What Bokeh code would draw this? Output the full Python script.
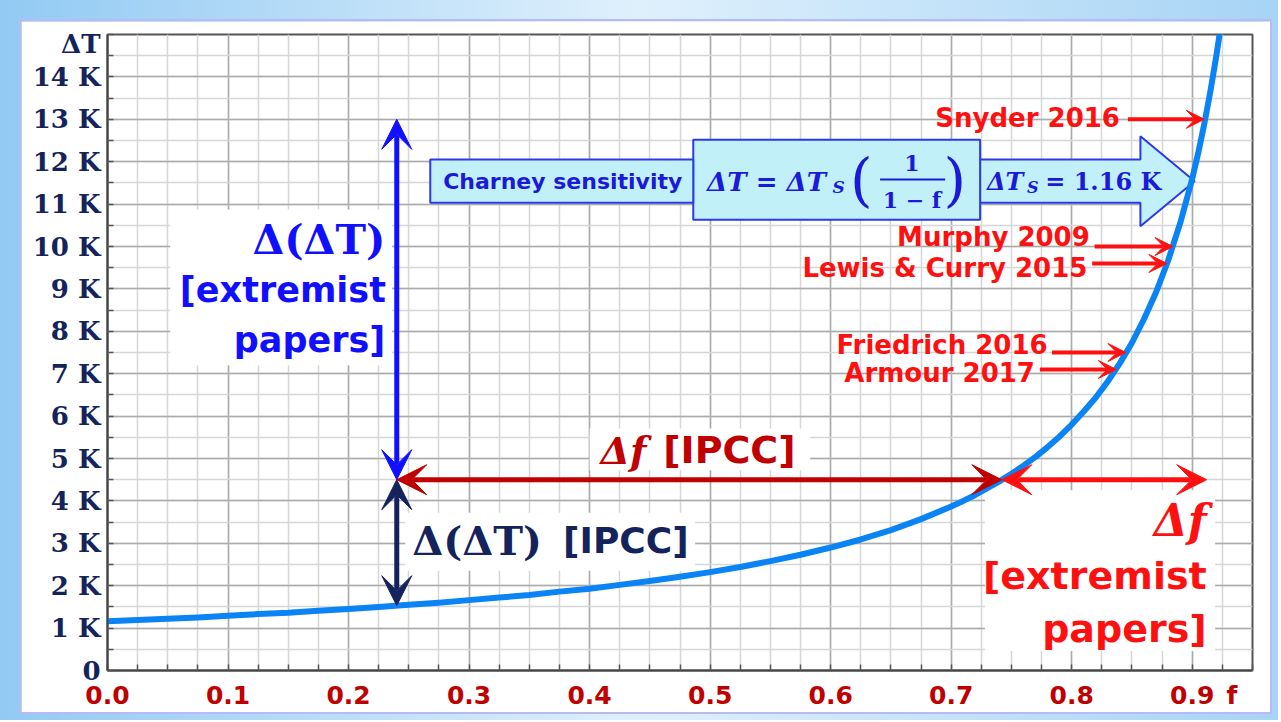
import numpy as np
from bokeh.plotting import figure
from bokeh.models import Range1d, FixedTicker, Label, Arrow, VeeHead
from bokeh.layouts import column
from bokeh.embed import file_html
from bokeh.resources import INLINE

# ---------------- data ----------------
f_ticks = [0.0, 0.1, 0.2, 0.3, 0.4, 0.5, 0.6, 0.7, 0.8, 0.9]
f_tick_labels = ["0.0", "0.1", "0.2", "0.3", "0.4", "0.5", "0.6", "0.7", "0.8", "0.9"]
dT_ticks = list(range(0, 15))
dT_tick_labels = ["0"] + [f"{k} K" for k in range(1, 15)]
x_name, y_name = "f", "ΔT"

# Charney curve, values
curve_f = [0.000, 0.025, 0.050, 0.075, 0.100, 0.125, 0.150, 0.175, 0.200, 0.225,
           0.250, 0.275, 0.300, 0.325, 0.350, 0.375, 0.400, 0.425, 0.450, 0.475,
           0.500, 0.525, 0.550, 0.575, 0.600, 0.625, 0.650, 0.675, 0.700, 0.710,
           0.720, 0.730, 0.740, 0.750, 0.760, 0.770, 0.780, 0.790, 0.800, 0.810,
           0.820, 0.830, 0.840, 0.850, 0.860, 0.870, 0.880, 0.890, 0.900, 0.905,
           0.910, 0.915, 0.920, 0.923]
curve_dT = [1.16, 1.19, 1.22, 1.25, 1.29, 1.33, 1.36, 1.41, 1.45, 1.50,
            1.55, 1.60, 1.66, 1.72, 1.78, 1.86, 1.93, 2.02, 2.11, 2.21,
            2.32, 2.44, 2.58, 2.73, 2.90, 3.09, 3.31, 3.57, 3.87, 4.00,
            4.14, 4.30, 4.46, 4.64, 4.83, 5.04, 5.27, 5.52, 5.80, 6.11,
            6.44, 6.82, 7.25, 7.73, 8.29, 8.92, 9.67, 10.55, 11.60, 12.21,
            12.89, 13.65, 14.50, 15.06]

# published estimates pointed at on the curve
ref_names = ["Snyder 2016", "Murphy 2009", "Lewis & Curry 2015", "Friedrich 2016", "Armour 2017"]
ref_dT = [13.0, 10.0, 9.6, 7.5, 7.1]
ref_f = [0.910, 0.884, 0.879, 0.845, 0.837]

# IPCC / extremist intervals
ipcc_f = [0.24, 0.742]
extreme_f = [0.742, 0.912]
ipcc_dT = [1.53, 4.5]
extreme_dT = [4.5, 13.0]

# ---------------- layout / style ----------------
NAVY = "#14235c"
DRED = "#c00000"
RED = "#ff1010"
BLUE = "#1010ff"
FBLUE = "#1a1ad8"
CURVE = "#0a84f5"
BOXFILL = "#c2f0f8"
BOXLINE = "#2a3ae8"
SANS = "DejaVu Sans"
SERIF = "DejaVu Serif"

p = figure(width=1249, height=691, x_range=Range1d(0, 0.95), y_range=Range1d(0, 15),
           output_backend="svg", toolbar_location=None,
           min_border_left=86, min_border_right=18, min_border_top=13, min_border_bottom=42)
p.margin = (21, 8, 8, 21)
p.styles = {"outline": "2px solid #b9b9f3"}
p.background_fill_color = "white"
p.border_fill_color = "white"
p.outline_line_color = "#555555"
p.outline_line_width = 2

minor_x = [round(v, 4) for v in np.arange(0, 0.951, 0.025)]
minor_y = [round(v, 2) for v in np.arange(0, 15.01, 0.5)]
# axis-name positions share the tick-label row/column
x_name_pos, y_name_pos = 0.933, 14.77
p.xaxis.ticker = FixedTicker(ticks=f_ticks + [x_name_pos], minor_ticks=minor_x)
p.yaxis.ticker = FixedTicker(ticks=dT_ticks + [y_name_pos], minor_ticks=minor_y)
p.xgrid.ticker = FixedTicker(ticks=f_ticks, minor_ticks=minor_x)
p.ygrid.ticker = FixedTicker(ticks=dT_ticks, minor_ticks=minor_y)
xo = {t: l for t, l in zip(f_ticks, f_tick_labels)}
xo[x_name_pos] = x_name
yo = {t: l for t, l in zip(dT_ticks, dT_tick_labels)}
yo[y_name_pos] = y_name
p.xaxis.major_label_overrides = xo
p.yaxis.major_label_overrides = yo

for ax in (p.xaxis, p.yaxis):
    ax.axis_line_color = "#444444"
    ax.axis_line_width = 2
    ax.major_tick_in = 0
    ax.major_tick_out = 0
    ax.minor_tick_in = 6
    ax.minor_tick_out = 0
    ax.minor_tick_line_color = "#555555"
    ax.minor_tick_line_width = 1.5

p.xaxis.major_label_text_font = SANS
p.xaxis.major_label_text_font_style = "bold"
p.xaxis.major_label_text_font_size = "25px"
p.xaxis.major_label_text_color = DRED
p.xaxis.major_label_standoff = 10

p.yaxis.major_label_text_font = SERIF
p.yaxis.major_label_text_font_style = "bold"
p.yaxis.major_label_text_font_size = "26px"
p.yaxis.major_label_text_color = NAVY
p.yaxis.major_label_standoff = 7

for g in (p.xgrid, p.ygrid):
    g.grid_line_color = "#ababab"
    g.grid_line_width = 1.5
    g.minor_grid_line_color = "#d6d6d6"
    g.minor_grid_line_width = 1.5

# white boxes behind text
p.quad(left=[0.052, 0.247, 0.400, 0.728], right=[0.236, 0.4876, 0.583, 0.919],
       bottom=[7.2, 2.35, 4.72, 0.46], top=[10.87, 3.72, 5.71, 4.25],
       fill_color="white", line_color=None)

# Charney arrow shape + boxes
p.patch([0.724, 0.857, 0.857, 0.902, 0.857, 0.857, 0.724],
        [11.03, 11.03, 10.48, 11.54, 12.60, 12.05, 12.05],
        fill_color=BOXFILL, line_color=BOXLINE, line_width=2)
p.quad(left=[0.486], right=[0.724], bottom=[10.63], top=[12.52],
       fill_color=BOXFILL, line_color=BOXLINE, line_width=2)
p.quad(left=[0.2678], right=[0.486], bottom=[11.03], top=[12.05],
       fill_color=BOXFILL, line_color=BOXLINE, line_width=2)

# curve
p.line(curve_f, curve_dT, line_color=CURVE, line_width=6, line_join="round")


def lab(x, y, text, size, color, font=SANS, style="bold", align="left", baseline="middle"):
    p.add_layout(Label(x=x, y=y, text=text, text_font_size=size, text_color=color,
                       text_font=font, text_font_style=style, text_align=align,
                       text_baseline=baseline))


def arrow(x0, y0, x1, y1, color, width, size, both=True):
    p.add_layout(Arrow(x_start=x0, y_start=y0, x_end=x1, y_end=y1,
                       line_color=color, line_width=width,
                       start=VeeHead(size=size, fill_color=color, line_color=color) if both else None,
                       end=VeeHead(size=size, fill_color=color, line_color=color)))


# interval arrows
arrow(ipcc_f[0], extreme_dT[0], ipcc_f[0], extreme_dT[1], BLUE, 5, 30)
arrow(ipcc_f[0], ipcc_dT[1], ipcc_f[0], ipcc_dT[0], NAVY, 5, 30)
arrow(ipcc_f[1], ipcc_dT[1], ipcc_f[0], ipcc_dT[1], DRED, 5, 30)
arrow(extreme_f[0], ipcc_dT[1], extreme_f[1], ipcc_dT[1], RED, 5, 30)

# study arrows and labels
text_right = [0.840, 0.815, 0.813, 0.780, 0.7695]
text_y = [13.04, 10.23, 9.50, 7.68, 7.01]
tail_x = [0.8466, 0.819, 0.817, 0.7836, 0.7736]
for name, dT, fx, tr, ty, tx in zip(ref_names, ref_dT, ref_f, text_right, text_y, tail_x):
    arrow(tx, dT, fx, dT, RED, 4, 18, both=False)
    lab(tr, ty, name, "26px", RED, align="right")

# blue label
lab(0.2305, 10.16, "Δ(ΔT)", "41px", BLUE, font=SERIF, align="right")
lab(0.2310, 8.98, "[extremist", "35px", BLUE, align="right")
lab(0.2305, 7.79, "papers]", "35px", BLUE, align="right")

# navy label
lab(0.2529, 3.06, "Δ(ΔT)", "40px", NAVY, font=SERIF)
lab(0.378, 3.06, "[IPCC]", "36px", NAVY)

# dark red label
lab(0.409, 5.19, "Δf", "38px", DRED, font=SERIF, style="bold italic")
lab(0.461, 5.19, "[IPCC]", "38px", DRED)

# red label
lab(0.912, 3.54, "Δf", "44px", RED, font=SERIF, style="bold italic", align="right")
lab(0.912, 2.24, "[extremist", "38px", RED, align="right")
lab(0.912, 0.98, "papers]", "38px", RED, align="right")

# Charney box texts
lab(0.2785, 11.54, "Charney sensitivity", "22px", FBLUE)
lab(0.4975, 11.53, "ΔT = ΔT", "26px", FBLUE, font=SERIF, style="bold italic")
lab(0.6015, 11.40, "S", "17px", FBLUE, font=SERIF, style="bold italic")
lab(0.616, 11.58, "(", "58px", FBLUE, font=SERIF, style="normal")
lab(0.703, 11.58, ")", "58px", FBLUE, font=SERIF, style="normal", align="center")
lab(0.6675, 11.98, "1", "22px", FBLUE, font=SERIF, align="center")
lab(0.6675, 11.10, "1 − f", "22px", FBLUE, font=SERIF, align="center")
p.segment(x0=[0.641], y0=[11.58], x1=[0.695], y1=[11.58], line_color=FBLUE, line_width=2)
lab(0.7297, 11.53, "ΔT", "24px", FBLUE, font=SERIF, style="bold italic")
lab(0.763, 11.40, "S", "16px", FBLUE, font=SERIF, style="bold italic")
lab(0.778, 11.53, "= 1.16 K", "24px", FBLUE, font=SERIF)

layout = column(p, styles={"background": "linear-gradient(90deg, #92caf3 0%, #dff0fc 50%, #a7d4f5 100%)"})

open("out.html", "w").write(file_html(layout, INLINE))
